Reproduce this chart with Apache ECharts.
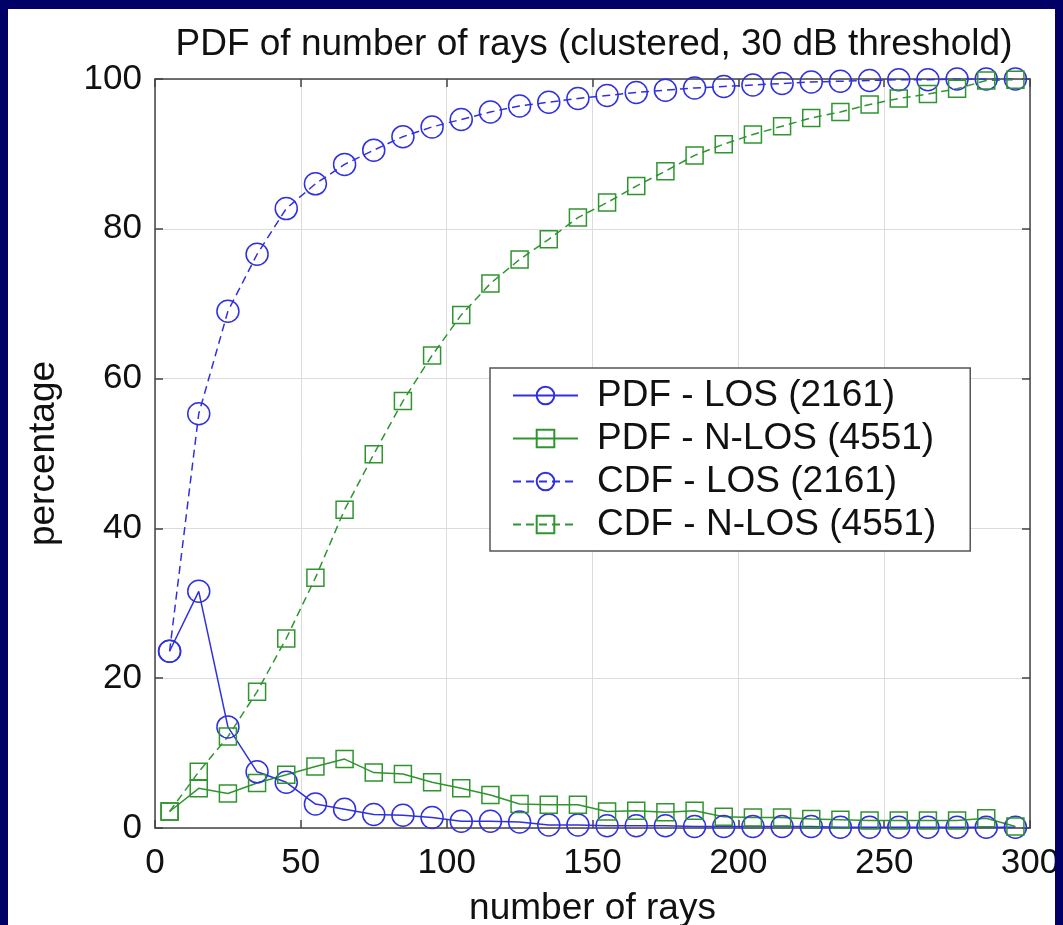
<!DOCTYPE html>
<html>
<head>
<meta charset="utf-8">
<title>PDF of number of rays</title>
<script src="https://cdn.jsdelivr.net/npm/echarts@6/dist/echarts.min.js"></script>
<style>
  html, body { margin: 0; padding: 0; background: #000066; }
  #chart { position: absolute; left: 8px; top: 9px; width: 1047px; height: 916px; background: #ffffff; }
</style>
</head>
<body>
<div id="chart"></div>
<script>
  // bin centres (number of rays)
  var rayBins = [5, 15, 25, 35, 45, 55, 65, 75, 85, 95, 105, 115, 125, 135, 145,
    155, 165, 175, 185, 195, 205, 215, 225, 235, 245, 255, 265, 275, 285, 295];

  // values, in percent
  var pdfLos = [23.6, 31.6, 13.5, 7.5, 6.1, 3.2, 2.5, 1.8, 1.7, 1.4, 0.9, 0.9, 0.8, 0.4, 0.4,
    0.3, 0.3, 0.3, 0.2, 0.2, 0.2, 0.2, 0.2, 0.1, 0.1, 0.1, 0.1, 0.1, 0.1, 0.1];
  var pdfNlos = [2.2, 5.3, 4.6, 6.0, 7.1, 8.2, 9.2, 7.4, 7.2, 6.1, 5.3, 4.4, 3.2, 3.1, 3.1,
    2.2, 2.3, 2.1, 2.3, 1.5, 1.4, 1.4, 1.2, 1.1, 1.0, 1.0, 1.0, 1.0, 1.3, 0.2];
  var cdfLos = [23.6, 55.3, 69.0, 76.6, 82.7, 86.0, 88.6, 90.5, 92.3, 93.6, 94.6, 95.6, 96.4, 96.9, 97.4,
    97.8, 98.2, 98.5, 98.8, 99.0, 99.2, 99.4, 99.6, 99.7, 99.8, 99.9, 99.9, 100, 100, 100];
  var cdfNlos = [2.2, 7.5, 12.2, 18.2, 25.3, 33.4, 42.5, 49.9, 57.0, 63.1, 68.5, 72.7, 75.9, 78.6, 81.5,
    83.5, 85.7, 87.7, 89.8, 91.3, 92.6, 93.7, 94.8, 95.6, 96.6, 97.4, 98.0, 98.7, 99.8, 99.9];

  var xTicks = [0, 50, 100, 150, 200, 250, 300];
  var yTicks = [0, 20, 40, 60, 80, 100];

  var blue = '#3030e0';
  var green = '#2f952f';
  var axisColor = '#444444';
  var font = 'Liberation Sans, Arial, Helvetica, sans-serif';

  function pairs(ys) {
    return rayBins.map(function (x, i) { return [x, ys[i]]; });
  }

  function mkSeries(name, ys, color, symbol, size, dashed) {
    return {
      name: name,
      type: 'line',
      data: pairs(ys),
      symbol: symbol,
      symbolSize: size,
      showAllSymbol: true,
      animation: false,
      lineStyle: { color: color, width: 1.5, type: dashed ? [8, 5] : 'solid' },
      itemStyle: { color: 'rgba(255,255,255,0)', borderColor: color, borderWidth: 1.5 }
    };
  }

  var myChart = echarts.init(document.getElementById('chart'));

  var baseX = {
    type: 'value', min: xTicks[0], max: xTicks[xTicks.length - 1], interval: 50,
    axisLine: { show: true, onZero: false, lineStyle: { color: axisColor, width: 1.5 } },
    axisTick: { show: true, inside: true, length: 8, lineStyle: { color: axisColor, width: 1.5 } },
    splitLine: { show: false }
  };
  var baseY = {
    type: 'value', min: yTicks[0], max: yTicks[yTicks.length - 1], interval: 20,
    axisLine: { show: true, onZero: false, lineStyle: { color: axisColor, width: 1.5 } },
    axisTick: { show: true, inside: true, length: 8, lineStyle: { color: axisColor, width: 1.5 } },
    splitLine: { show: false }
  };

  var option = {
    backgroundColor: '#ffffff',
    textStyle: { fontFamily: font },
    title: {
      text: 'PDF of number of rays (clustered, 30 dB threshold)',
      left: 581,
      textAlign: 'center',
      top: 12,
      textStyle: { fontSize: 37, fontWeight: 'normal', color: '#111', fontFamily: font }
    },
    legend: {
      orient: 'vertical',
      left: 482,
      top: 359,
      padding: [9, 34, 8, 22],
      itemGap: 6,
      itemWidth: 65,
      itemHeight: 22,
      backgroundColor: '#ffffff',
      borderColor: '#555',
      borderWidth: 1.5,
      borderRadius: 0,
      textStyle: { fontSize: 37, color: '#111', fontFamily: font, padding: [0, 0, 0, 14] },
      data: ['PDF - LOS (2161)', 'PDF - N-LOS (4551)', 'CDF - LOS (2161)', 'CDF - N-LOS (4551)']
    },
    grid: { left: 147, right: 25, top: 70, bottom: 97, outerBoundsMode: 'none' },
    xAxis: [
      Object.assign({}, baseX, {
        position: 'bottom',
        name: 'number of rays',
        nameLocation: 'middle',
        nameGap: 62,
        nameTextStyle: { fontSize: 37, color: '#111', fontFamily: font },
        axisLabel: { fontSize: 35, color: '#111', margin: 18, fontFamily: font },
        splitLine: { show: true, lineStyle: { color: '#dcdcdc', width: 1 } }
      }),
      Object.assign({}, baseX, { position: 'top', axisLabel: { show: false } })
    ],
    yAxis: [
      Object.assign({}, baseY, {
        position: 'left',
        name: 'percentage',
        nameLocation: 'middle',
        nameGap: 93,
        nameTextStyle: { fontSize: 37, color: '#111', fontFamily: font },
        axisLabel: { fontSize: 35, color: '#111', margin: 13, fontFamily: font },
        splitLine: { show: true, lineStyle: { color: '#dcdcdc', width: 1 } }
      }),
      Object.assign({}, baseY, { position: 'right', axisLabel: { show: false } })
    ],
    series: [
      mkSeries('PDF - LOS (2161)', pdfLos, blue, 'circle', 22, false),
      mkSeries('PDF - N-LOS (4551)', pdfNlos, green, 'rect', 17, false),
      mkSeries('CDF - LOS (2161)', cdfLos, blue, 'circle', 22, true),
      mkSeries('CDF - N-LOS (4551)', cdfNlos, green, 'rect', 17, true)
    ]
  };

  myChart.setOption(option);
</script>
</body>
</html>
